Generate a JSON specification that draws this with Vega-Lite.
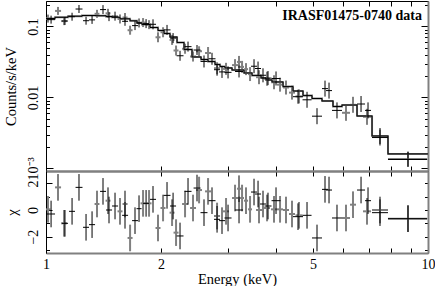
{
 "$schema": "https://vega.github.io/schema/vega-lite/v6.json",
 "padding": {"left": 3, "top": 0, "right": 0, "bottom": 0},
 "spacing": 0,
 "bounds": "flush",
 "config": {
  "view": {"stroke": null},
  "axis": {"grid": false, "labelFont": "Liberation Serif", "titleFont": "Liberation Serif", "labelFontSize": 14, "titleFontSize": 14.5, "titleFontWeight": "normal", "labelColor": "#000", "titleColor": "#000", "tickColor": "#000", "tickWidth": 1, "labelOverlap": false, "labelFlush": false, "labelBound": false}
 },
 "datasets": {
  "pts": [
   {"s":"k","e":1.031,"elo":1.006,"ehi":1.056,"y":0.1245,"ylo":0.1094,"yhi":0.1418,"c":-0.3,"cl":-1.3,"ch":0.7},
   {"s":"k","e":1.121,"elo":1.101,"ehi":1.142,"y":0.1191,"ylo":0.1046,"yhi":0.1356,"c":-1.0,"cl":-2.0,"ch":0.0},
   {"s":"k","e":1.170,"elo":1.149,"ehi":1.191,"y":0.1370,"ylo":0.1203,"yhi":0.1559,"c":-0.1,"cl":-1.1,"ch":0.9},
   {"s":"k","e":1.220,"elo":1.195,"ehi":1.246,"y":0.1758,"ylo":0.1545,"yhi":0.2002,"c":1.7,"cl":0.7,"ch":2.7},
   {"s":"k","e":1.273,"elo":1.250,"ehi":1.296,"y":0.1203,"ylo":0.1057,"yhi":0.1370,"c":-1.3,"cl":-2.3,"ch":-0.3},
   {"s":"k","e":1.320,"elo":1.296,"ehi":1.344,"y":0.1235,"ylo":0.1085,"yhi":0.1406,"c":-1.1,"cl":-2.1,"ch":-0.1},
   {"s":"k","e":1.410,"elo":1.385,"ehi":1.436,"y":0.1725,"ylo":0.1491,"yhi":0.1996,"c":1.4,"cl":0.4,"ch":2.4},
   {"s":"k","e":1.462,"elo":1.436,"ehi":1.489,"y":0.1374,"ylo":0.1187,"yhi":0.1590,"c":0.0,"cl":-1.0,"ch":1.0},
   {"s":"k","e":1.516,"elo":1.489,"ehi":1.544,"y":0.1394,"ylo":0.1205,"yhi":0.1613,"c":0.3,"cl":-0.7,"ch":1.3},
   {"s":"k","e":1.610,"elo":1.582,"ehi":1.640,"y":0.1180,"ylo":0.1020,"yhi":0.1365,"c":-0.4,"cl":-1.4,"ch":0.6},
   {"s":"k","e":1.710,"elo":1.680,"ehi":1.741,"y":0.1026,"ylo":0.0887,"yhi":0.1187,"c":-0.8,"cl":-1.8,"ch":0.2},
   {"s":"k","e":1.752,"elo":1.726,"ehi":1.779,"y":0.1118,"ylo":0.0966,"yhi":0.1294,"c":0.1,"cl":-0.9,"ch":1.1},
   {"s":"k","e":1.828,"elo":1.795,"ehi":1.861,"y":0.1095,"ylo":0.0946,"yhi":0.1267,"c":0.5,"cl":-0.5,"ch":1.5},
   {"s":"k","e":1.906,"elo":1.872,"ehi":1.941,"y":0.1071,"ylo":0.0910,"yhi":0.1259,"c":0.8,"cl":-0.2,"ch":1.8},
   {"s":"k","e":2.074,"elo":2.031,"ehi":2.118,"y":0.0893,"ylo":0.0759,"yhi":0.1050,"c":1.1,"cl":0.1,"ch":2.1},
   {"s":"k","e":2.151,"elo":2.112,"ehi":2.190,"y":0.0684,"ylo":0.0582,"yhi":0.0805,"c":0.3,"cl":-0.7,"ch":1.3},
   {"s":"k","e":2.243,"elo":2.197,"ehi":2.291,"y":0.0386,"ylo":0.0328,"yhi":0.0454,"c":-1.95,"cl":-2.95,"ch":-0.95},
   {"s":"k","e":2.354,"elo":2.305,"ehi":2.404,"y":0.0519,"ylo":0.0442,"yhi":0.0611,"c":1.4,"cl":0.4,"ch":2.4},
   {"s":"k","e":2.485,"elo":2.434,"ehi":2.538,"y":0.0465,"ylo":0.0396,"yhi":0.0547,"c":1.65,"cl":0.65,"ch":2.65},
   {"s":"k","e":2.592,"elo":2.538,"ehi":2.647,"y":0.0321,"ylo":0.0264,"yhi":0.0390,"c":-0.2,"cl":-1.2,"ch":0.8},
   {"s":"k","e":2.720,"elo":2.664,"ehi":2.778,"y":0.0350,"ylo":0.0288,"yhi":0.0425,"c":0.7,"cl":-0.3,"ch":1.7},
   {"s":"k","e":2.804,"elo":2.753,"ehi":2.855,"y":0.02455,"ylo":0.0202,"yhi":0.0298,"c":-0.7,"cl":-1.7,"ch":0.3},
   {"s":"k","e":2.889,"elo":2.838,"ehi":2.942,"y":0.02286,"ylo":0.0188,"yhi":0.0278,"c":-0.8,"cl":-1.8,"ch":0.2},
   {"s":"k","e":2.996,"elo":2.933,"ehi":3.060,"y":0.02253,"ylo":0.0185,"yhi":0.0274,"c":-0.6,"cl":-1.6,"ch":0.4},
   {"s":"k","e":3.201,"elo":3.125,"ehi":3.279,"y":0.02316,"ylo":0.0191,"yhi":0.0281,"c":0.0,"cl":-1.0,"ch":1.0},
   {"s":"k","e":3.504,"elo":3.441,"ehi":3.568,"y":0.02747,"ylo":0.0219,"yhi":0.0345,"c":1.35,"cl":0.35,"ch":2.35},
   {"s":"k","e":3.590,"elo":3.525,"ehi":3.655,"y":0.02553,"ylo":0.0203,"yhi":0.0320,"c":1.2,"cl":0.2,"ch":2.2},
   {"s":"k","e":3.699,"elo":3.633,"ehi":3.767,"y":0.02051,"ylo":0.0163,"yhi":0.0257,"c":0.45,"cl":-0.55,"ch":1.45},
   {"s":"k","e":3.812,"elo":3.733,"ehi":3.894,"y":0.01869,"ylo":0.0149,"yhi":0.0235,"c":0.3,"cl":-0.7,"ch":1.3},
   {"s":"k","e":4.001,"elo":3.894,"ehi":4.111,"y":0.01845,"ylo":0.0147,"yhi":0.0232,"c":0.7,"cl":-0.3,"ch":1.7},
   {"s":"k","e":4.568,"elo":4.432,"ehi":4.708,"y":0.01023,"ylo":0.00815,"yhi":0.01284,"c":-0.5,"cl":-1.5,"ch":0.5},
   {"s":"k","e":4.823,"elo":4.694,"ehi":4.956,"y":0.00925,"ylo":0.00714,"yhi":0.01199,"c":-0.4,"cl":-1.4,"ch":0.6},
   {"s":"k","e":5.122,"elo":4.970,"ehi":5.279,"y":0.00544,"ylo":0.00419,"yhi":0.00705,"c":-2.1,"cl":-3.1,"ch":-1.1},
   {"s":"k","e":5.375,"elo":5.279,"ehi":5.473,"y":0.01330,"ylo":0.01026,"yhi":0.01724,"c":1.55,"cl":0.55,"ch":2.55},
   {"s":"k","e":5.507,"elo":5.408,"ehi":5.607,"y":0.01247,"ylo":0.00962,"yhi":0.01616,"c":1.5,"cl":0.5,"ch":2.5},
   {"s":"k","e":5.778,"elo":5.607,"ehi":5.955,"y":0.00656,"ylo":0.00506,"yhi":0.00851,"c":-0.6,"cl":-1.6,"ch":0.4},
   {"s":"k","e":6.679,"elo":6.520,"ehi":6.842,"y":0.00807,"ylo":0.00623,"yhi":0.01046,"c":1.5,"cl":0.5,"ch":2.5},
   {"s":"k","e":6.966,"elo":6.842,"ehi":7.093,"y":0.00656,"ylo":0.00506,"yhi":0.00851,"c":0.7,"cl":-0.3,"ch":1.7},
   {"s":"k","e":7.487,"elo":7.135,"ehi":7.857,"y":0.00272,"ylo":0.00210,"yhi":0.00352,"c":-0.2,"cl":-1.2,"ch":0.8},
   {"s":"k","e":8.864,"elo":7.857,"ehi":9.95,"y":0.001334,"ylo":0.001046,"yhi":0.001701,"c":-0.65,"cl":-1.65,"ch":0.35},
   {"s":"g","e":1.012,"elo":1.0,"ehi":1.027,"y":0.1289,"ylo":0.1132,"yhi":0.1467,"c":0.05,"cl":-0.95,"ch":1.05},
   {"s":"g","e":1.075,"elo":1.056,"ehi":1.095,"y":0.1653,"ylo":0.1452,"yhi":0.1882,"c":1.7,"cl":0.7,"ch":2.7},
   {"s":"g","e":1.115,"elo":1.095,"ehi":1.135,"y":0.1188,"ylo":0.1043,"yhi":0.1352,"c":-1.0,"cl":-2.0,"ch":0.0},
   {"s":"g","e":1.360,"elo":1.340,"ehi":1.380,"y":0.1505,"ylo":0.1322,"yhi":0.1713,"c":0.45,"cl":-0.55,"ch":1.45},
   {"s":"g","e":1.453,"elo":1.432,"ehi":1.475,"y":0.1529,"ylo":0.1321,"yhi":0.1770,"c":0.7,"cl":-0.3,"ch":1.7},
   {"s":"g","e":1.562,"elo":1.539,"ehi":1.586,"y":0.1273,"ylo":0.1100,"yhi":0.1474,"c":-0.1,"cl":-1.1,"ch":0.9},
   {"s":"g","e":1.610,"elo":1.586,"ehi":1.635,"y":0.1335,"ylo":0.1154,"yhi":0.1545,"c":0.45,"cl":-0.55,"ch":1.45},
   {"s":"g","e":1.660,"elo":1.635,"ehi":1.685,"y":0.0884,"ylo":0.0764,"yhi":0.1023,"c":-2.1,"cl":-3.1,"ch":-1.1},
   {"s":"g","e":1.795,"elo":1.768,"ehi":1.822,"y":0.1133,"ylo":0.0979,"yhi":0.1311,"c":0.5,"cl":-0.5,"ch":1.5},
   {"s":"g","e":1.861,"elo":1.833,"ehi":1.889,"y":0.1058,"ylo":0.0915,"yhi":0.1225,"c":0.5,"cl":-0.5,"ch":1.5},
   {"s":"g","e":1.964,"elo":1.935,"ehi":1.994,"y":0.0703,"ylo":0.0598,"yhi":0.0827,"c":-1.35,"cl":-2.35,"ch":-0.35},
   {"s":"g","e":2.025,"elo":1.994,"ehi":2.055,"y":0.0827,"ylo":0.0703,"yhi":0.0973,"c":0.15,"cl":-0.85,"ch":1.15},
   {"s":"g","e":2.138,"elo":2.106,"ehi":2.170,"y":0.0645,"ylo":0.0549,"yhi":0.0759,"c":-0.2,"cl":-1.2,"ch":0.8},
   {"s":"g","e":2.190,"elo":2.157,"ehi":2.223,"y":0.0458,"ylo":0.0389,"yhi":0.0538,"c":-1.7,"cl":-2.7,"ch":-0.7},
   {"s":"g","e":2.312,"elo":2.271,"ehi":2.354,"y":0.0484,"ylo":0.0412,"yhi":0.0570,"c":0.45,"cl":-0.55,"ch":1.45},
   {"s":"g","e":2.426,"elo":2.383,"ehi":2.470,"y":0.0377,"ylo":0.0320,"yhi":0.0443,"c":0.15,"cl":-0.85,"ch":1.15},
   {"s":"g","e":2.516,"elo":2.470,"ehi":2.561,"y":0.0447,"ylo":0.0380,"yhi":0.0525,"c":1.5,"cl":0.5,"ch":2.5},
   {"s":"g","e":2.656,"elo":2.608,"ehi":2.704,"y":0.0422,"ylo":0.0347,"yhi":0.0513,"c":1.4,"cl":0.4,"ch":2.4},
   {"s":"g","e":2.804,"elo":2.753,"ehi":2.855,"y":0.0258,"ylo":0.0212,"yhi":0.0313,"c":-0.45,"cl":-1.45,"ch":0.55},
   {"s":"g","e":2.960,"elo":2.907,"ehi":3.014,"y":0.0252,"ylo":0.0208,"yhi":0.0307,"c":-0.1,"cl":-1.1,"ch":0.9},
   {"s":"g","e":3.125,"elo":3.069,"ehi":3.182,"y":0.0285,"ylo":0.0235,"yhi":0.0346,"c":0.9,"cl":-0.1,"ch":1.9},
   {"s":"g","e":3.201,"elo":3.163,"ehi":3.240,"y":0.0316,"ylo":0.0260,"yhi":0.0384,"c":1.6,"cl":0.6,"ch":2.6},
   {"s":"g","e":3.260,"elo":3.221,"ehi":3.299,"y":0.0269,"ylo":0.0222,"yhi":0.0327,"c":0.9,"cl":-0.1,"ch":1.9},
   {"s":"g","e":3.339,"elo":3.299,"ehi":3.380,"y":0.0250,"ylo":0.0206,"yhi":0.0304,"c":0.7,"cl":-0.3,"ch":1.7},
   {"s":"g","e":3.421,"elo":3.380,"ehi":3.462,"y":0.0213,"ylo":0.0170,"yhi":0.0267,"c":0.05,"cl":-0.95,"ch":1.05},
   {"s":"g","e":3.611,"elo":3.547,"ehi":3.677,"y":0.01925,"ylo":0.01534,"yhi":0.02416,"c":0.0,"cl":-1.0,"ch":1.0},
   {"s":"g","e":3.790,"elo":3.722,"ehi":3.859,"y":0.01831,"ylo":0.01459,"yhi":0.02298,"c":0.15,"cl":-0.85,"ch":1.15},
   {"s":"g","e":3.953,"elo":3.882,"ehi":4.025,"y":0.01634,"ylo":0.01302,"yhi":0.02051,"c":0.05,"cl":-0.95,"ch":1.05},
   {"s":"g","e":4.099,"elo":4.025,"ehi":4.173,"y":0.01512,"ylo":0.01205,"yhi":0.01897,"c":0.05,"cl":-0.95,"ch":1.05},
   {"s":"g","e":4.249,"elo":4.173,"ehi":4.327,"y":0.01378,"ylo":0.01098,"yhi":0.01729,"c":0.0,"cl":-1.0,"ch":1.0},
   {"s":"g","e":4.406,"elo":4.327,"ehi":4.486,"y":0.01168,"ylo":0.00931,"yhi":0.01466,"c":-0.3,"cl":-1.3,"ch":0.7},
   {"s":"g","e":4.596,"elo":4.500,"ehi":4.694,"y":0.01033,"ylo":0.00823,"yhi":0.01296,"c":-0.4,"cl":-1.4,"ch":0.6},
   {"s":"g","e":6.101,"elo":5.955,"ehi":6.250,"y":0.00607,"ylo":0.00468,"yhi":0.00787,"c":-0.6,"cl":-1.6,"ch":0.4},
   {"s":"g","e":6.364,"elo":6.250,"ehi":6.480,"y":0.00786,"ylo":0.00607,"yhi":0.01020,"c":0.4,"cl":-0.6,"ch":1.4},
   {"s":"g","e":6.924,"elo":6.759,"ehi":7.093,"y":0.00533,"ylo":0.00411,"yhi":0.00691,"c":-0.1,"cl":-1.1,"ch":0.9},
   {"s":"g","e":7.487,"elo":7.135,"ehi":7.857,"y":0.00286,"ylo":0.00221,"yhi":0.00371,"c":0.0,"cl":-1.0,"ch":1.0},
   {"s":"g","e":8.864,"elo":7.857,"ehi":9.95,"y":0.001356,"ylo":0.001063,"yhi":0.00173,"c":-0.65,"cl":-1.65,"ch":0.35}
  ],
  "model": [
   {"e":1.0,"m":0.1292},{"e":1.0557,"m":0.1344},{"e":1.1418,"m":0.1392},{"e":1.2423,"m":0.1424},
   {"e":1.3516,"m":0.1415},{"e":1.4360,"m":0.1379},{"e":1.4889,"m":0.1344},{"e":1.5624,"m":0.1279},
   {"e":1.6596,"m":0.1199},{"e":1.7310,"m":0.1117},{"e":1.7840,"m":0.1064},{"e":1.8720,"m":0.0965},
   {"e":1.9644,"m":0.0876},{"e":2.0368,"m":0.0794},{"e":2.1120,"m":0.0709},{"e":2.2031,"m":0.0593},
   {"e":2.2981,"m":0.0473},{"e":2.4116,"m":0.0371},{"e":2.5460,"m":0.0342},{"e":2.6557,"m":0.0320},
   {"e":2.7700,"m":0.0291},{"e":2.8549,"m":0.0272},{"e":2.9421,"m":0.0260},{"e":3.0691,"m":0.0243},
   {"e":3.2992,"m":0.0221},{"e":3.4621,"m":0.0204},{"e":3.6550,"m":0.0188},{"e":3.7668,"m":0.0176},
   {"e":3.9055,"m":0.0165},{"e":4.1733,"m":0.0142},{"e":4.4325,"m":0.0123},{"e":4.7081,"m":0.0106},
   {"e":4.9705,"m":0.00965},{"e":5.2789,"m":0.0089},{"e":5.6406,"m":0.00744},{"e":5.9553,"m":0.00781},
   {"e":6.5194,"m":0.00547},{"e":7.1366,"m":0.00286},{"e":7.8575,"m":0.0016},{"e":10,"m":0.0016}
  ],
  "ann": [{"t":"IRASF01475-0740 data","e":9.64,"v":0.14}]
 },
 "vconcat": [
  {
   "width": 382, "height": 170,
   "resolve": {"axis": {"x": "independent", "y": "independent"}},
   "layer": [
    {"data": {"name": "pts"}, "transform": [{"filter": "datum.s == 'g'"}],
     "mark": {"type": "rule", "color": "#808080", "strokeWidth": 2},
     "encoding": {
      "x": {"field": "e", "type": "quantitative", "scale": {"type": "log", "domain": [1, 10], "nice": false}, "axis": null},
      "y": {"field": "ylo", "type": "quantitative", "scale": {"type": "log", "domain": [0.000919, 0.228], "nice": false}, "axis": null},
      "y2": {"field": "yhi"}}},
    {"data": {"name": "pts"}, "transform": [{"filter": "datum.s == 'g'"}],
     "mark": {"type": "rule", "color": "#808080", "strokeWidth": 2},
     "encoding": {
      "x": {"field": "elo", "type": "quantitative", "scale": {"type": "log", "domain": [1, 10], "nice": false}, "axis": null},
      "x2": {"field": "ehi"},
      "y": {"field": "y", "type": "quantitative", "scale": {"type": "log", "domain": [0.000919, 0.228], "nice": false}, "axis": null}}},
    {"data": {"name": "model"},
     "mark": {"type": "line", "interpolate": "step-after", "color": "#808080", "strokeWidth": 2},
     "encoding": {
      "x": {"field": "e", "type": "quantitative", "scale": {"type": "log", "domain": [1, 10], "nice": false},
            "axis": {"orient": "bottom", "values": [1,2,3,4,5,6,7,8,9,10], "labels": false, "title": null, "tickSize": -5, "domainColor": "#808080", "domainWidth": 2}},
      "y": {"field": "m", "type": "quantitative", "scale": {"type": "log", "domain": [0.000919, 0.228], "nice": false},
            "axis": {"orient": "left", "values": [0.2,0.1,0.09,0.08,0.07,0.06,0.05,0.04,0.03,0.02,0.01,0.009,0.008,0.007,0.006,0.005,0.004,0.003,0.002,0.001],
                     "title": "Counts/s/keV", "titlePadding": 4, "labelAngle": 270, "labelAlign": "center", "labelBaseline": "alphabetic", "labelPadding": 16,
                     "tickSize": {"condition": {"test": "datum.value == 0.1 || datum.value == 0.01 || datum.value == 0.001", "value": -7}, "value": -3.5},
                     "labelExpr": "datum.value == 0.1 ? '0.1' : datum.value == 0.01 ? '0.01' : datum.value == 0.001 ? '10⁻³' : ''",
                     "domainColor": "#000", "domainWidth": 1}}}},
    {"data": {"name": "model"},
     "mark": {"type": "line", "interpolate": "step-after", "color": "#000", "strokeWidth": 1},
     "encoding": {
      "x": {"field": "e", "type": "quantitative", "scale": {"type": "log", "domain": [1, 10], "nice": false},
            "axis": {"orient": "top", "values": [1,2,3,4,5,6,7,8,9,10], "labels": false, "title": null, "tickSize": -5, "domainColor": "#000", "domainWidth": 1}},
      "y": {"field": "m", "type": "quantitative", "scale": {"type": "log", "domain": [0.000919, 0.228], "nice": false},
            "axis": {"orient": "right", "values": [0.2,0.1,0.09,0.08,0.07,0.06,0.05,0.04,0.03,0.02,0.01,0.009,0.008,0.007,0.006,0.005,0.004,0.003,0.002,0.001],
                     "labels": false, "title": null,
                     "tickSize": {"condition": {"test": "datum.value == 0.1 || datum.value == 0.01 || datum.value == 0.001", "value": -7}, "value": -3.5},
                     "domainColor": "#808080", "domainWidth": 2}}}},
    {"data": {"name": "pts"}, "transform": [{"filter": "datum.s == 'k'"}],
     "mark": {"type": "rule", "color": "#000", "strokeWidth": 1},
     "encoding": {
      "x": {"field": "e", "type": "quantitative", "scale": {"type": "log", "domain": [1, 10], "nice": false}, "axis": null},
      "y": {"field": "ylo", "type": "quantitative", "scale": {"type": "log", "domain": [0.000919, 0.228], "nice": false}, "axis": null},
      "y2": {"field": "yhi"}}},
    {"data": {"name": "pts"}, "transform": [{"filter": "datum.s == 'k'"}],
     "mark": {"type": "rule", "color": "#000", "strokeWidth": 1},
     "encoding": {
      "x": {"field": "elo", "type": "quantitative", "scale": {"type": "log", "domain": [1, 10], "nice": false}, "axis": null},
      "x2": {"field": "ehi"},
      "y": {"field": "y", "type": "quantitative", "scale": {"type": "log", "domain": [0.000919, 0.228], "nice": false}, "axis": null}}},
    {"data": {"name": "ann"},
     "mark": {"type": "text", "font": "Liberation Serif", "fontSize": 14, "fontWeight": "bold", "align": "right", "baseline": "middle", "color": "#000"},
     "encoding": {
      "x": {"field": "e", "type": "quantitative", "scale": {"type": "log", "domain": [1, 10], "nice": false}, "axis": null},
      "y": {"field": "v", "type": "quantitative", "scale": {"type": "log", "domain": [0.000919, 0.228], "nice": false}, "axis": null},
      "text": {"field": "t"}}}
   ]
  },
  {
   "width": 382, "height": 82,
   "resolve": {"axis": {"x": "independent", "y": "independent"}},
   "layer": [
    {"mark": {"type": "rule", "color": "#808080", "strokeWidth": 2, "strokeDash": [7, 5]},
     "encoding": {"y": {"datum": 0, "type": "quantitative", "scale": {"domain": [-3.23, 2.93], "nice": false, "zero": false}, "axis": null}}},
    {"data": {"name": "pts"}, "transform": [{"filter": "datum.s == 'g'"}],
     "mark": {"type": "rule", "color": "#808080", "strokeWidth": 2},
     "encoding": {
      "x": {"field": "e", "type": "quantitative", "scale": {"type": "log", "domain": [1, 10], "nice": false},
            "axis": {"orient": "bottom", "values": [1,2,3,4,5,6,7,8,9,10], "title": "Energy (keV)", "titlePadding": 1, "labelPadding": 9, "tickSize": -5,
                     "labelExpr": "datum.value == 1 ? '1' : datum.value == 2 ? '2' : datum.value == 5 ? '5' : datum.value == 10 ? '10' : ''",
                     "domainColor": "#808080", "domainWidth": 2}},
      "y": {"field": "cl", "type": "quantitative", "scale": {"domain": [-3.23, 2.93], "nice": false, "zero": false},
            "axis": {"orient": "left", "values": [-3,-2,-1,0,1,2], "title": "χ", "titlePadding": 4, "labelAngle": 270, "labelAlign": "center", "labelBaseline": "alphabetic", "labelPadding": 15,
                     "tickSize": {"condition": {"test": "datum.value == 2 || datum.value == 0 || datum.value == -2", "value": -6}, "value": -3.5},
                     "labelExpr": "datum.value == 2 ? '2' : datum.value == 0 ? '0' : datum.value == -2 ? '−2' : ''",
                     "domainColor": "#000", "domainWidth": 1}},
      "y2": {"field": "ch"}}},
    {"data": {"name": "pts"}, "transform": [{"filter": "datum.s == 'g'"}],
     "mark": {"type": "rule", "color": "#808080", "strokeWidth": 2},
     "encoding": {
      "x": {"field": "elo", "type": "quantitative", "scale": {"type": "log", "domain": [1, 10], "nice": false}, "axis": null},
      "x2": {"field": "ehi"},
      "y": {"field": "c", "type": "quantitative", "scale": {"domain": [-3.23, 2.93], "nice": false, "zero": false}, "axis": null}}},
    {"data": {"name": "pts"}, "transform": [{"filter": "datum.s == 'k'"}],
     "mark": {"type": "rule", "color": "#000", "strokeWidth": 1},
     "encoding": {
      "x": {"field": "e", "type": "quantitative", "scale": {"type": "log", "domain": [1, 10], "nice": false},
            "axis": {"orient": "top", "values": [1,2,3,4,5,6,7,8,9,10], "labels": false, "title": null, "tickSize": -5, "domainColor": "#808080", "domainWidth": 2}},
      "y": {"field": "cl", "type": "quantitative", "scale": {"domain": [-3.23, 2.93], "nice": false, "zero": false},
            "axis": {"orient": "right", "values": [-3,-2,-1,0,1,2], "labels": false, "title": null, "tickSize": -3.5, "domainColor": "#808080", "domainWidth": 2}},
      "y2": {"field": "ch"}}},
    {"data": {"name": "pts"}, "transform": [{"filter": "datum.s == 'k'"}],
     "mark": {"type": "rule", "color": "#000", "strokeWidth": 1},
     "encoding": {
      "x": {"field": "elo", "type": "quantitative", "scale": {"type": "log", "domain": [1, 10], "nice": false}, "axis": null},
      "x2": {"field": "ehi"},
      "y": {"field": "c", "type": "quantitative", "scale": {"domain": [-3.23, 2.93], "nice": false, "zero": false}, "axis": null}}}
   ]
  }
 ]
}
